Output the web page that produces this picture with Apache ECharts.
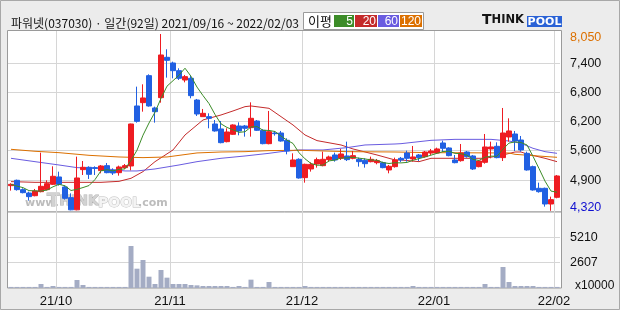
<!DOCTYPE html>
<html><head><meta charset="utf-8">
<script src="https://cdn.jsdelivr.net/npm/echarts@6/dist/echarts.min.js"></script>
<style>html,body{margin:0;padding:0;background:#ececec}#c{width:620px;height:310px}</style>
</head><body><div id="c"></div>
<script>
const dates = ['2021/09/16','2021/09/17','2021/09/23','2021/09/24','2021/09/27','2021/09/28','2021/09/29','2021/09/30',
'2021/10/01','2021/10/05','2021/10/06','2021/10/07','2021/10/08','2021/10/12','2021/10/13','2021/10/14','2021/10/15','2021/10/18','2021/10/19','2021/10/20','2021/10/21','2021/10/22','2021/10/25','2021/10/26','2021/10/27','2021/10/28','2021/10/29',
'2021/11/01','2021/11/02','2021/11/03','2021/11/04','2021/11/05','2021/11/08','2021/11/09','2021/11/10','2021/11/11','2021/11/12','2021/11/15','2021/11/16','2021/11/17','2021/11/18','2021/11/19','2021/11/22','2021/11/23','2021/11/24','2021/11/25','2021/11/26','2021/11/29','2021/11/30',
'2021/12/01','2021/12/02','2021/12/03','2021/12/06','2021/12/07','2021/12/08','2021/12/09','2021/12/10','2021/12/13','2021/12/14','2021/12/15','2021/12/16','2021/12/17','2021/12/20','2021/12/21','2021/12/22','2021/12/23','2021/12/24','2021/12/27','2021/12/28','2021/12/29','2021/12/30',
'2022/01/03','2022/01/04','2022/01/05','2022/01/06','2022/01/07','2022/01/10','2022/01/11','2022/01/12','2022/01/13','2022/01/14','2022/01/17','2022/01/18','2022/01/19','2022/01/20','2022/01/21','2022/01/24','2022/01/25','2022/01/26','2022/01/27','2022/01/28',
'2022/02/03'];

const opens  = [4850,4963,4766,4695,4638,4723,4766,4878,5033,4822,4597,4340,5188,5237,5230,5167,5272,5174,5124,5230,
5265,6531,6601,7171,6489,6707,7558,7438,7276,7079,7115,6657,6306,6306,6151,6046,5778,5933,6109,6109,
6074,6214,6018,5736,5961,5961,5807,5251,5406,5019,5202,5307,5272,5399,5497,5427,5476,5427,5406,5385,
5356,5335,5335,5181,5251,5427,5539,5413,5497,5462,5539,5539,5750,5645,5392,5377,5560,5476,5251,5342,
5624,5680,5441,5877,5940,5813,5532,5251,4794,4794,4463,4604];
const closes = [4878,4766,4702,4618,4738,4836,4892,5047,4878,4583,4340,5012,5237,5089,5215,5265,5124,5117,5244,5272,
6151,6207,6700,6531,6411,7607,7494,7276,7115,7150,6749,6362,6376,6271,6004,5757,5982,6130,6004,6060,
6271,6018,5736,5989,5947,5792,5582,5392,5012,5300,5300,5399,5406,5455,5392,5518,5399,5483,5356,5314,
5406,5377,5230,5258,5392,5392,5427,5455,5441,5560,5582,5624,5638,5483,5335,5539,5462,5202,5370,5666,
5666,5441,5961,6004,5792,5603,5181,4759,4723,4463,4555,5054];
const lows   = [4745,4745,4688,4534,4625,4709,4752,4864,4850,4555,4330,4330,5075,4991,5075,5110,5110,5075,5061,5202,
5174,6179,6411,6517,6179,6601,7129,7115,7079,7030,6693,6320,6306,6060,5989,5743,5764,5919,5912,5884,
5884,6004,5722,5722,5905,5778,5511,5251,4998,4913,5146,5230,5258,5356,5356,5392,5370,5406,5251,5230,
5342,5300,5216,5110,5230,5350,5356,5356,5370,5441,5497,5525,5560,5469,5321,5356,5441,5181,5237,5314,
5427,5427,5370,5778,5581,5567,5167,4745,4702,4407,4320,4583];
const highs  = [4900,4977,4794,4723,4780,5546,4963,5258,5145,4850,4688,5462,5370,5258,5258,5286,5328,5216,5272,5307,
6158,6939,6988,7199,6517,8050,7727,7466,7326,7185,7171,6679,6468,6376,6235,6214,6060,6144,6186,6130,
6608,6235,6039,6426,6004,6004,5849,5532,5427,5314,5342,5441,5567,5483,5546,5624,5778,5582,5441,5427,
5462,5413,5356,5286,5441,5455,5589,5687,5518,5582,5624,5652,5799,5659,5497,5729,5582,5497,5392,5940,
5778,5764,6489,6271,6004,5898,5567,5272,4913,4808,4618,5075];

const volumes = [110,110,110,110,110,410,110,205,110,110,110,820,307,110,110,110,110,110,110,110,
4305,1980,2870,1160,410,1845,1060,410,410,410,307,270,205,205,205,205,205,110,205,110,855,110,110,615,
110,110,110,110,110,205,
110,110,110,110,110,110,110,110,110,110,110,110,110,110,110,110,110,205,
110,110,110,110,110,110,110,110,110,110,110,
410,110,110,2153,615,205,205,205,205,110,110,110,110];

const ma5 = [4878,4840,4808,4745,4740,4735,4757,4826,4878,4847,4748,4772,4810,4852,4979,5164,5186,5162,5193,5204,
5382,5598,5915,6172,6400,6691,6949,7064,7181,7328,7157,6930,6750,6582,6352,6154,6078,6029,5975,5987,
6089,6097,6018,6015,5992,5896,5809,5740,5545,5416,5317,5281,5283,5372,5390,5434,5434,5449,5430,5414,
5392,5387,5337,5317,5333,5330,5340,5385,5421,5455,5493,5532,5569,5577,5532,5524,5491,5404,5382,5448,
5473,5469,5621,5748,5773,5760,5708,5468,5212,4946,4736,4711];
const ma20 = [[0,4935],[4,4920],[15,4920],[18,4941],[20,5005],[22,5146],[24,5356],[27,5603],[29,5919],[31,6130],
[32,6236],[35,6341],[37,6426],[39,6517],[40,6531],[43,6482],[45,6306],[47,6130],[49,5919],[51,5800],[55,5708],
[57,5624],[61,5497],[64,5392],[65,5392],[68,5356],[70,5427],[79,5427],[82,5497],[84,5560],[85,5560],[86,5518],
[89,5427],[91,5356]];
const ma60 = [[0,5427],[4,5356],[8,5286],[11,5230],[15,5216],[19,5160],[21,5160],[24,5202],[28,5286],[31,5356],
[35,5427],[39,5476],[43,5532],[45,5567],[48,5603],[52,5603],[56,5652],[59,5708],[64,5729],[65,5736],[68,5778],
[70,5806],[74,5827],[80,5827],[83,5792],[85,5743],[87,5638],[89,5567],[91,5532]];
const ma120 = [[0,5617],[4,5575],[8,5546],[13,5490],[18,5455],[22,5441],[26,5455],[31,5540],[35,5560],[39,5567],
[43,5589],[48,5596],[52,5582],[56,5567],[64,5560],[70,5546],[83,5539],[84,5511],[87,5483],[91,5448]];

const maPeriods = [5, 20, 60, 120];
const maColors = ['#3c8c28', '#c42b2b', '#6a5ce0', '#dc7000'];

const priceTickValues = [4963, 5588, 6207, 6819, 7431];
const priceTickLabels = ['4,900', '5,600', '6,200', '6,800', '7,400'];
const priceHigh = 8050, priceLow = 4320;
const volTickValues = [2607, 5210];
const volTickLabels = ['2607', '5210'];
const volUnit = 'x10000';
const monthStarts = ['2021/10/01', '2021/11/01', '2021/12/01', '2022/01/03', '2022/02/03'];
const monthLabels = ['21/10', '21/11', '21/12', '22/01', '22/02'];
const titleText = '파워넷(037030) · 일간(92일) 2021/09/16 ~ 2022/02/03';

const monthIdx = monthStarts.map(d => dates.indexOf(d));
const candleData = opens.map((o, i) => [o, closes[i], lows[i], highs[i]]);

const legendGraphics = [];
legendGraphics.push({type:'rect', shape:{x:303.5,y:12.5,width:120,height:17}, style:{fill:'#fff', stroke:'#9a9a9a', lineWidth:1}});
legendGraphics.push({type:'text', x:308, y:21, style:{text:'이평', fill:'#111', font:'13px "Noto Sans CJK KR"', verticalAlign:'middle'}});
const boxX = [334, 355, 378, 400], boxW = [20, 22, 21, 22];
maPeriods.forEach((p, k) => {
  legendGraphics.push({type:'rect', shape:{x:boxX[k], y:15, width:boxW[k], height:12}, style:{fill:maColors[k]}});
  legendGraphics.push({type:'text', x:boxX[k]+boxW[k]-1, y:21.5, style:{text:String(p), fill:'#fff', font:'12px "Liberation Sans"', align:'right', verticalAlign:'middle'}});
});

const chart = echarts.init(document.getElementById('c'), null, {renderer:'canvas'});
const fmtNum = v => v.toLocaleString('en-US');
const wmRich = {
  big:{fontSize:18, fontWeight:'bold', fontFamily:'"DejaVu Sans"', fill:'#d2d2d2', stroke:'#b2b2b2', lineWidth:1},
  sm:{fontSize:14, fontWeight:'bold', fontFamily:'"DejaVu Sans"', fill:'#d2d2d2', stroke:'#b2b2b2', lineWidth:1},
  pl:{fontSize:14, fontWeight:'bold', fontFamily:'"DejaVu Sans"', fill:'#f4f4f4', stroke:'#bdbdbd', lineWidth:1}
};

chart.setOption({
  animation: false,
  backgroundColor: '#ececec',
  title: {text: titleText, left: 6, top: 12, textStyle:{fontSize:12, fontWeight:'normal', color:'#111', fontFamily:'"Noto Sans CJK KR"'}},
  graphic: [
    {type:'rect', z:-20, shape:{x:0.5,y:0.5,width:619,height:309}, style:{fill:'#ececec', stroke:'#a8a8a8', lineWidth:1}},
    {type:'rect', z:-10, shape:{x:7.5,y:30.5,width:554,height:181.5}, style:{fill:'#fff', stroke:'#9a9a9a', lineWidth:1}},
    {type:'rect', z:-10, shape:{x:7.5,y:212,width:554,height:76}, style:{fill:'#fff', stroke:'#9a9a9a', lineWidth:1}},
    {type:'text', z:-5, x:25, y:209, style:{text:'www.', fill:'#bcbcbc', font:'bold 11px "DejaVu Sans"', verticalAlign:'bottom'}},
    {type:'text', z:-5, x:47, y:210, style:{text:'{big|T}{sm|HINK}', rich:wmRich, verticalAlign:'bottom'}},
    {type:'text', z:-5, x:98, y:210, style:{text:'{pl|POOL}', rich:wmRich, verticalAlign:'bottom'}},
    {type:'text', z:-5, x:138, y:209, style:{text:'.com', fill:'#bcbcbc', font:'bold 11px "DejaVu Sans"', verticalAlign:'bottom'}},
    {type:'text', x:482, y:27, style:{text:'{a|T}{b|HINK}', verticalAlign:'bottom',
      rich:{a:{fontSize:14, fontWeight:'bold', fontFamily:'"DejaVu Sans"', fill:'#151515'},
            b:{fontSize:11.5, fontWeight:'bold', fontFamily:'"DejaVu Sans"', fill:'#151515'}}}},
    {type:'rect', shape:{x:527, y:16, width:35, height:11}, style:{fill:'#2a62d6'}},
    {type:'text', x:544.5, y:21.8, style:{text:'POOL', fill:'#ffffff', font:'bold 11px "DejaVu Sans"', align:'center', verticalAlign:'middle'}},
    {type:'text', x:575, y:286, style:{text:volUnit, fill:'#111', font:'12px "Liberation Sans"', verticalAlign:'middle'}},
    {type:'group', children: legendGraphics}
  ],
  grid: [
    {left:8, right:60, top:31, height:181, outerBoundsMode:'none', containLabel:false},
    {left:8, right:60, top:212, height:76, outerBoundsMode:'none', containLabel:false}
  ],
  xAxis: [
    {type:'category', gridIndex:0, data:dates, boundaryGap:true,
     axisLine:{show:false}, axisTick:{show:false}, axisLabel:{show:false},
     splitLine:{show:true, showMaxLine:false, interval:(i)=>monthIdx.includes(i), lineStyle:{color:'#d6d6d6', width:1}}},
    {type:'category', gridIndex:1, data:dates, boundaryGap:true,
     axisLine:{show:false}, axisTick:{show:false},
     axisLabel:{show:true, interval:(i)=>monthIdx.includes(i), margin:7,
       formatter:(v)=>{const k = monthStarts.indexOf(v); return k>=0 ? '{a|'+monthLabels[k]+'}' : '';},
       rich:{a:{padding:[0,6,0,0], fontSize:13, fontFamily:'"Liberation Sans"', color:'#111'}}},
     splitLine:{show:true, showMaxLine:false, interval:(i)=>monthIdx.includes(i), lineStyle:{color:'#d6d6d6', width:1}}}
  ],
  yAxis: [
    {type:'value', gridIndex:0, position:'right', min:4294, max:8113, scale:true,
     axisLine:{show:false},
     axisTick:{show:false, customValues:priceTickValues},
     axisLabel:{show:true, margin:10, customValues:[priceLow].concat(priceTickValues, [priceHigh]),
       fontSize:12.5, fontFamily:'"Liberation Sans"', color:'#111',
       formatter:(v)=>{
         if (v===priceHigh) return '{hi|'+fmtNum(v)+'}';
         if (v===priceLow) return '{lo|'+fmtNum(v)+'}';
         const k = priceTickValues.indexOf(v); return k>=0 ? priceTickLabels[k] : '';
       },
       rich:{hi:{color:'#dc7000', fontSize:12.5, fontFamily:'"Liberation Sans"', padding:[8,0,0,0]},
             lo:{color:'#1010d0', fontSize:12.5, fontFamily:'"Liberation Sans"', padding:[0,0,6,0]}}},
     splitLine:{show:true, lineStyle:{color:'#d6d6d6', width:1}}},
    {type:'value', gridIndex:1, position:'right', min:0, max:7790,
     axisLine:{show:false},
     axisTick:{show:false, customValues:volTickValues},
     axisLabel:{show:true, margin:10, customValues:volTickValues, fontSize:12.5, fontFamily:'"Liberation Sans"', color:'#111',
       formatter:(v)=>{const k = volTickValues.indexOf(v); return k>=0 ? volTickLabels[k] : '';}},
     splitLine:{show:true, lineStyle:{color:'#d6d6d6', width:1}}}
  ],
  series: [
    {type:'candlestick', xAxisIndex:0, yAxisIndex:0, data:candleData, barWidth:5, z:3,
     itemStyle:{color:'#ee1c22', color0:'#2160e2', borderColor:'#ee1c22', borderColor0:'#2160e2', borderWidth:1}},
    {type:'line', xAxisIndex:0, yAxisIndex:0, data:ma5, symbol:'none', z:4, lineStyle:{color:maColors[0], width:1}},
    {type:'line', xAxisIndex:0, yAxisIndex:0, data:ma20, symbol:'none', z:2, lineStyle:{color:maColors[1], width:1}},
    {type:'line', xAxisIndex:0, yAxisIndex:0, data:ma60, symbol:'none', z:2, lineStyle:{color:maColors[2], width:1}},
    {type:'line', xAxisIndex:0, yAxisIndex:0, data:ma120, symbol:'none', z:2, lineStyle:{color:maColors[3], width:1}},
    {type:'bar', xAxisIndex:1, yAxisIndex:1, data:volumes, barWidth:5, itemStyle:{color:'#a4acc4'}}
  ]
});
</script></body></html>
